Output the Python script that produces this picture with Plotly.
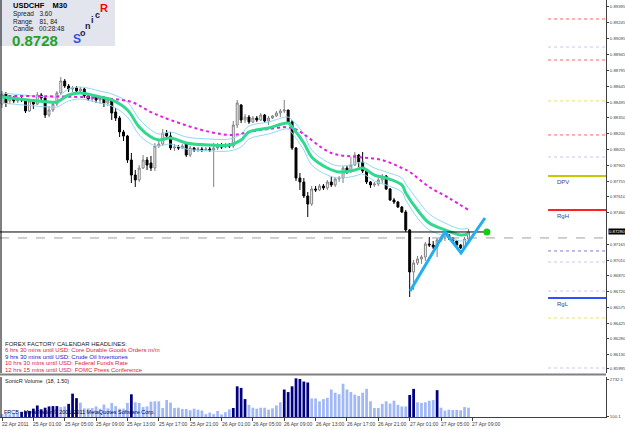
import plotly.graph_objects as go

# ---------------- data (prices in points, 1 point = 0.00001) ----------------
bar_index = list(range(120))
open_pts = [88480,88574,88509,88537,88509,88527,88509,88415,88509,88480,
 88565,88537,88377,88424,88480,88584,88696,88649,88621,88631,
 88602,88621,88556,88527,88546,88518,88537,88490,88509,88405,
 88349,88218,88180,87955,87814,87768,87880,87955,87927,87880,
 88086,88105,88208,88180,88068,88077,88068,88105,88002,88068,
 88049,88058,88049,88058,88049,88068,88086,88077,88096,88086,
 88283,88471,88330,88358,88312,88349,88330,88377,88321,88349,
 88368,88396,88415,88424,88312,88068,87786,87749,87617,87542,
 87683,87674,87711,87693,87749,87721,87777,87786,87880,87852,
 87908,88002,87936,87852,87749,87721,87730,87768,87805,87683,
 87580,87561,87514,87467,87299,86905,86989,87027,87045,87167,
 87158,87139,87205,87224,87252,87224,87195,87158,87130,87214]
high_pts = [88602,88593,88556,88556,88546,88546,88518,88527,88527,88593,
 88584,88546,88462,88499,88602,88734,88715,88668,88649,88649,
 88640,88631,88574,88565,88565,88556,88556,88546,88518,88443,
 88368,88237,88190,88021,87861,87908,88002,87983,87993,88115,
 88133,88246,88237,88218,88105,88096,88105,88124,88086,88077,
 88077,88077,88077,88077,88115,88115,88115,88115,88115,88321,
 88518,88480,88387,88377,88368,88368,88396,88387,88368,88377,
 88415,88434,88518,88424,88330,88077,87833,87786,87655,87711,
 87711,87730,87730,87768,87805,87796,87805,87899,87899,87983,
 88030,88012,88030,87861,87758,87749,87786,87824,87814,87693,
 87599,87571,87524,87486,87308,87017,87055,87064,87186,87233,
 87195,87224,87242,87280,87261,87233,87205,87167,87233,87308]
low_pts = [88443,88452,88480,88490,88490,88499,88396,88405,88434,88471,
 88509,88349,88358,88405,88462,88565,88631,88593,88593,88584,
 88574,88537,88509,88499,88490,88480,88452,88462,88330,88321,
 88171,88133,87927,87739,87702,87749,87871,87861,87852,87852,
 88068,88086,88143,88049,88040,88049,88058,87983,87983,88030,
 88030,88030,88040,88030,87702,88049,88058,88068,88068,88068,
 88255,88302,88302,88293,88302,88312,88321,88302,88283,88340,
 88358,88358,88396,88302,88049,87758,87674,87599,87420,87524,
 87655,87664,87674,87674,87702,87702,87749,87739,87824,87833,
 87899,87889,87833,87730,87693,87702,87711,87739,87674,87571,
 87542,87505,87458,87280,86670,86736,86970,86980,87008,87139,
 87120,87045,87186,87195,87205,87177,87139,87120,87120,87205]
close_pts = [88574,88490,88537,88509,88527,88518,88415,88509,88480,88565,
 88537,88377,88424,88480,88584,88696,88649,88621,88631,88602,
 88621,88556,88527,88546,88518,88537,88490,88518,88396,88349,
 88218,88180,87955,87814,87768,87880,87955,87908,87880,88086,
 88105,88208,88180,88068,88077,88068,88086,88002,88068,88049,
 88058,88049,88058,88049,88068,88086,88077,88096,88086,88283,
 88490,88330,88358,88312,88349,88330,88377,88321,88349,88368,
 88396,88415,88424,88312,88068,87786,87749,87617,87542,87683,
 87674,87711,87693,87749,87721,87777,87786,87880,87852,87908,
 88002,87936,87852,87749,87721,87730,87768,87805,87683,87580,
 87561,87514,87467,87299,86905,86989,87027,87045,87167,87158,
 87139,87205,87224,87252,87224,87195,87158,87130,87214,87280]

# moving averages (sampled at bars)
ma_bars = [0,12,14,17,20,25,28,32,35,38,40,43,47,53,58,61,63,68,73,74,77,79,83,86,90,92,95,98,102,103,106,109,113,117,119]
ema_fast_pts = [88546,88499,88499,88565,88584,88546,88518,88424,88265,88171,88143,88162,88115,88096,88096,88143,88218,88255,88302,88265,88115,87983,87880,87843,87861,87880,87814,87786,87721,87646,87486,87364,87299,87252,87261]
band_high_pts = [88584,88546,88546,88621,88640,88602,88574,88499,88340,88237,88199,88218,88171,88152,88152,88199,88274,88312,88358,88330,88199,88049,87936,87899,87918,87936,87880,87843,87786,87730,87580,87449,87364,87308,87317]
band_low_pts = [88490,88452,88452,88509,88527,88490,88462,88358,88190,88105,88086,88105,88058,88040,88040,88077,88152,88199,88246,88208,88049,87908,87814,87786,87805,87824,87758,87721,87655,87580,87411,87299,87242,87195,87205]
slow_bars = [0,25,33,38,43,53,59,63,68,74,84,91,97,102,104,109,114,119]
ema_slow_pts = [88556,88537,88499,88405,88330,88218,88190,88218,88246,88255,88021,87983,87955,87880,87843,87702,87599,87486]

zigzag_bars = [104.1, 113, 117.1, 123.2]
zigzag_pts = [86726, 87280, 87083, 87411]

current_price = 0.87280
ref_line = 0.87224

# right-side levels
level_pts = [89278, 89015, 88893, 88509, 88190, 87983, 87805, 87486, 87102, 86998, 86726, 86661, 86473, 86004]
level_colors = ['#ff6060','#c8c8f0','#ff6060','#e8e060','#ff6060','#c8c8f0','#c8c800','#ff2020','#9070d0','#c8c8f0','#c8c8f0','#3050ff','#e8e060','#c8c8f0']
level_dash = ['dot','dot','dot','dot','dot','dot','solid','solid','dot','dot','dot','solid','dot','dot']
level_labels = {87805: 'DPV', 87486: 'RgH', 86661: 'RgL'}

# volume sub-window
volume = [250,300,220,280,240,
 395,440,463,622,849,577,690,781,804,804,
 736,781,963,1689,1371,1053,645,645,668,781,
 622,917,645,1031,804,622,622,1031,1644,1076,
 1031,736,781,1122,1144,1144,668,1235,1053,668,
 690,599,599,509,622,554,486,236,350,236,
 463,214,372,577,668,2211,2098,1303,895,690,
 622,690,690,554,645,849,1076,1984,1803,2211,
 2779,2733,2552,2484,1349,1349,1144,1303,1394,1984,
 1757,1644,2393,1984,1803,1621,1530,1757,2030,1144,
 668,668,963,1144,985,1190,895,781,781,1598,
 2030,1076,1031,1076,1190,1235,1939,690,486,554,
 531,531,509,736,690]
climax_bars = [5,6,7,8,9,10,11,12,13,14,17,18,19,33,59,60,61,62,72,73,74,75,76,77,78,104,105,111]

price_ticks = [0.89395,0.89245,0.89095,0.88945,0.88795,0.88645,0.88495,0.88350,0.88200,0.88055,
               0.87905,0.87755,0.87610,0.87460,0.87165,0.87010,0.86870,0.86720,0.86575,0.86425,
               0.86280,0.86130,0.85995]
vol_ticks = [2732.1, 100.1]
time_tick_bars = [0,8,16,24,32,40,48,56,64,72,80,88,96,104,112,120]
time_tick_labels = ['22 Apr 2011','25 Apr 01:00','25 Apr 05:00','25 Apr 09:00','25 Apr 13:00','25 Apr 17:00',
                    '25 Apr 21:00','26 Apr 01:00','26 Apr 05:00','26 Apr 09:00','26 Apr 13:00','26 Apr 17:00',
                    '26 Apr 21:00','27 Apr 01:00','27 Apr 05:00','27 Apr 09:00']

headlines = [('FOREX FACTORY CALENDAR HEADLINES:', '#202020'),
             ('6 hrs 30 mins until USD: Core Durable Goods Orders m/m', '#e02040'),
             ('9 hrs 30 mins until USD: Crude Oil Inventories', '#2020d0'),
             ('10 hrs 30 mins until USD: Federal Funds Rate', '#e02040'),
             ('12 hrs 15 mins until USD: FOMC Press Conference', '#e02040')]

P = 1e-5
def px(v):
    return [x * P for x in v]

W, H = 625, 429
ML, MR, MT, MB = 0, 19, 0, 11
PH = H - MT - MB
PW = W - ML - MR
main_dom = [1 - 373 / PH, 1]
vol_dom = [1 - 417 / PH, 1 - 377 / PH]
XR = [-0.51, 154.08]
FONT = 'Liberation Sans'
AXFONT = 'Liberation Sans Narrow, Liberation Sans'
AXF = 4.3

fig = go.Figure()

for lp, lc, ld in zip(level_pts, level_colors, level_dash):
    fig.add_trace(go.Scatter(x=[139.3, 154.08], y=[lp * P, lp * P], mode='lines',
                             line=dict(color=lc, width=2 if ld == 'solid' else 1, dash=ld),
                             xaxis='x', yaxis='y', hoverinfo='skip', showlegend=False))

fig.add_trace(go.Scatter(x=XR, y=[ref_line, ref_line], mode='lines',
                         line=dict(color='#a0a0a0', width=1, dash='dash'), yaxis='y', showlegend=False))

fig.add_trace(go.Scatter(x=ma_bars, y=px(band_high_pts), mode='lines', line=dict(color='#90d8f8', width=1, shape='spline'), showlegend=False))
fig.add_trace(go.Scatter(x=ma_bars, y=px(band_low_pts), mode='lines', line=dict(color='#90d8f8', width=1, shape='spline'), showlegend=False))
fig.add_trace(go.Scatter(x=slow_bars, y=px(ema_slow_pts), mode='lines', line=dict(color='#e020e0', width=2, dash='dot', shape='spline'), showlegend=False))
fig.add_trace(go.Scatter(x=ma_bars, y=px(ema_fast_pts), mode='lines', line=dict(color='#30d890', width=3, shape='spline'), showlegend=False))

fig.add_trace(go.Candlestick(x=bar_index, open=px(open_pts), high=px(high_pts), low=px(low_pts), close=px(close_pts),
                             increasing=dict(line=dict(color='#808080', width=1), fillcolor='#ffffff'),
                             decreasing=dict(line=dict(color='#000000', width=1), fillcolor='#000000'),
                             whiskerwidth=0, showlegend=False, xaxis='x', yaxis='y'))

fig.add_trace(go.Scatter(x=[XR[0], 123.7], y=[current_price, current_price], mode='lines',
                         line=dict(color='#000000', width=1), showlegend=False))
fig.add_trace(go.Scatter(x=[123.7], y=[current_price], mode='markers',
                         marker=dict(color='#10d010', size=7), showlegend=False))

fig.add_trace(go.Scatter(x=zigzag_bars, y=px(zigzag_pts), mode='lines',
                         line=dict(color='#20b0f0', width=3), showlegend=False))

vol_colors = ['#000080' if i in climax_bars else '#a0b8f8' for i in bar_index]
fig.add_trace(go.Bar(x=bar_index, y=volume, marker=dict(color=vol_colors, line=dict(width=0)),
                     width=0.7, xaxis='x', yaxis='y2', showlegend=False))

annotations = []
for lp, lab in level_labels.items():
    annotations.append(dict(x=141.0, y=lp * P, xref='x', yref='y', text=lab, showarrow=False,
                            xanchor='left', yanchor='top', yshift=-1,
                            font=dict(family=FONT, size=6, color='#404080')))
for b, t in zip(time_tick_bars, time_tick_labels):
    annotations.append(dict(x=b, y=-6 / PH, xref='x', yref='paper', text=t, showarrow=False,
                            xanchor='left', yanchor='middle', xshift=-2,
                            font=dict(family=FONT, size=5, color='#404040')))
for k, (t, c) in enumerate(headlines):
    annotations.append(dict(x=3 / PW, y=1 - (344 + 6.4 * k) / PH, xref='paper', yref='paper', text=t,
                            showarrow=False, xanchor='left', yanchor='middle',
                            font=dict(family=FONT, size=6, color=c)))
annotations.append(dict(x=3 / PW, y=1 - 381 / PH, xref='paper', yref='paper', text='SonicR Volume  (18, 1.50)',
                        showarrow=False, xanchor='left', yanchor='middle', font=dict(family=FONT, size=5.5, color='#202020')))
annotations.append(dict(x=2 / PW, y=1 - 412 / PH, xref='paper', yref='paper',
                        text='FRCB - MetaTrader © 2001-2011 MetaQuotes Software Corp.',
                        showarrow=False, xanchor='left', yanchor='middle', font=dict(family=FONT, size=5.5, color='#000040')))
info = [('<b>USDCHF    M30</b>', 6, 7.5, '#000000'), ('Spread   3.60', 14.5, 6.5, '#202020'),
        ('Range    81, 84', 21.5, 6.5, '#202020'), ('Candle   00:28:48', 28, 6.5, '#202020')]
for t, yy, fs, c in info:
    annotations.append(dict(x=11 / PW, y=1 - yy / PH, xref='paper', yref='paper', text=t, showarrow=False,
                            xanchor='left', yanchor='middle', font=dict(family=FONT, size=fs, color=c)))
annotations.append(dict(x=10 / PW, y=1 - 40 / PH, xref='paper', yref='paper', text='<b>0.8728</b>', showarrow=False,
                        xanchor='left', yanchor='middle', font=dict(family=FONT, size=15, color='#28a028')))
for t, xx, yy, fs, c in [('<b>S</b>', 77, 39, 12, '#3050e0'), ('<b>o</b>', 83, 33, 9, '#202040'),
                         ('<b>n</b>', 88, 26, 9, '#202040'), ('<b>i</b>', 92, 20, 9, '#202040'),
                         ('<b>c</b>', 97, 15, 9, '#202040'), ('<b>R</b>', 104, 8, 11, '#ff0000')]:
    annotations.append(dict(x=xx / PW, y=1 - yy / PH, xref='paper', yref='paper', text=t, showarrow=False,
                            xanchor='center', yanchor='middle', font=dict(family=FONT, size=fs, color=c)))
annotations.append(dict(x=1.0, y=current_price, xref='paper', yref='y', text='0.87280', showarrow=False,
                        xanchor='left', yanchor='middle', xshift=2, bgcolor='#000000',
                        font=dict(family=AXFONT, size=AXF, color='#ffffff'), borderpad=0))

shapes = [
    dict(type='rect', xref='paper', yref='paper', x0=0, x1=115 / PW, y0=1 - 46 / PH, y1=1,
         fillcolor='#e2e4ee', line=dict(width=0), layer='below'),
    dict(type='line', xref='paper', yref='paper', x0=1 / PW, x1=1 / PW, y0=main_dom[0], y1=1, line=dict(color='#000000', width=1)),
    dict(type='line', xref='paper', yref='paper', x0=0, x1=1, y0=1 - 374.5 / PH, y1=1 - 374.5 / PH, line=dict(color='#808080', width=2)),
    dict(type='line', xref='paper', yref='paper', x0=1 / PW, x1=1 / PW, y0=vol_dom[0], y1=vol_dom[1], line=dict(color='#000000', width=1)),
]

fig.update_layout(
    width=W, height=H, margin=dict(l=ML, r=MR, t=MT, b=MB, autoexpand=False),
    paper_bgcolor='#ffffff', plot_bgcolor='#ffffff',
    xaxis=dict(range=XR, anchor='y2', showgrid=False, zeroline=False, rangeslider=dict(visible=False),
               tickvals=time_tick_bars, showticklabels=False, ticks='outside', ticklen=3, tickcolor='#404040',
               showline=True, linecolor='#404040', linewidth=1, automargin=False),
    yaxis=dict(domain=main_dom, range=[0.85957, 0.89456], side='right', anchor='x', showgrid=False, zeroline=False,
               tickvals=price_ticks, ticktext=['%.5f' % v for v in price_ticks], ticks='outside', ticklen=2,
               ticklabelstandoff=0,
               tickcolor='#404040', tickfont=dict(family=AXFONT, size=AXF, color='#404040'),
               showline=True, linecolor='#404040', linewidth=1, automargin=False),
    yaxis2=dict(domain=vol_dom, range=[29, 2874], side='right', anchor='x', showgrid=False, zeroline=False,
                tickvals=vol_ticks, ticktext=['%.1f' % v for v in vol_ticks], ticks='outside', ticklen=2,
                ticklabelstandoff=0,
                tickcolor='#404040', tickfont=dict(family=AXFONT, size=AXF, color='#404040'),
                showline=True, linecolor='#404040', linewidth=1, automargin=False),
    annotations=annotations, shapes=shapes, bargap=0.3,
)
fig.write_html('out.html')
